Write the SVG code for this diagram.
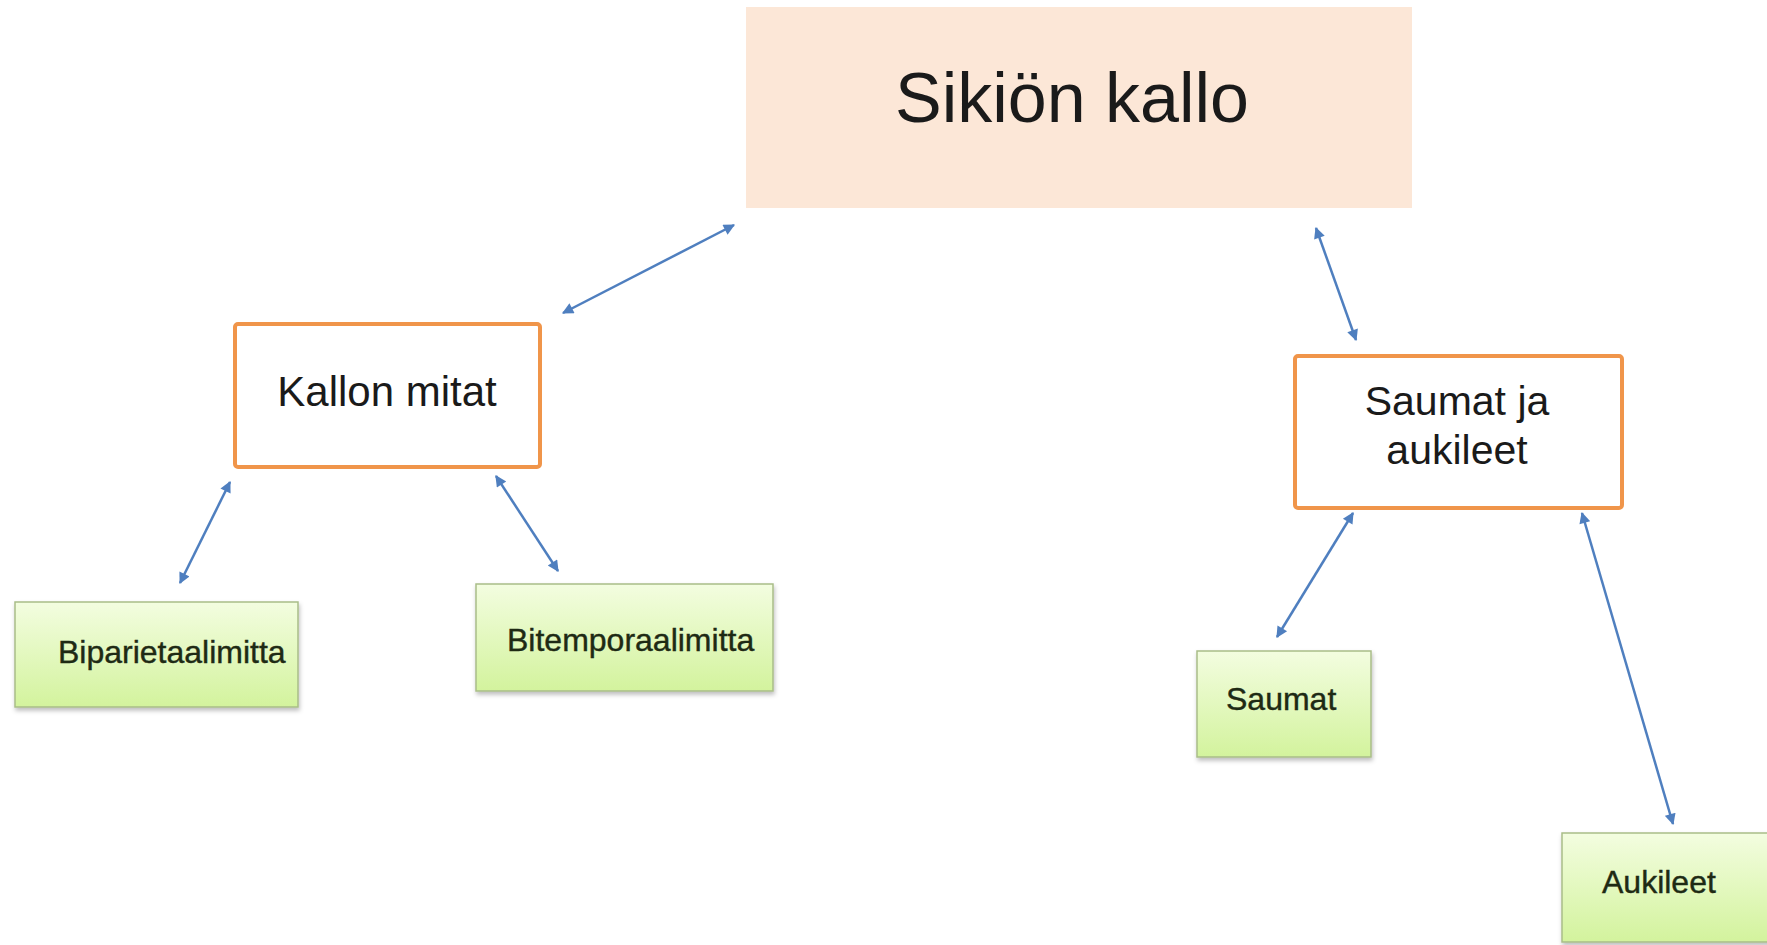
<svg xmlns="http://www.w3.org/2000/svg" width="1767" height="945" viewBox="0 0 1767 945">
  <style>
    .root { fill: #fce7d7; }
    .mid { fill: #ffffff; stroke: #f0954a; stroke-width: 4; }
    .leaf { fill: url(#leafFill); stroke: #a9bd88; stroke-width: 1.5; filter: url(#leafShadow); }
    .t { font-family: "Liberation Sans", Arial, Helvetica, sans-serif; fill: #1a1a1a; }
    .tl { font-family: "Liberation Sans", Arial, Helvetica, sans-serif; fill: #1e2a14; font-size: 32px; stroke: #1e2a14; stroke-width: 0.4; }
    .link { stroke: #4f7fbf; stroke-width: 2.5; fill: none; marker-start: url(#tip); marker-end: url(#tip); }
  </style>
  <defs>
    <linearGradient id="leafFill" x1="0" y1="0" x2="0" y2="1">
      <stop offset="0" stop-color="#f3fde0"/>
      <stop offset="1" stop-color="#d3f39d"/>
    </linearGradient>
    <filter id="leafShadow" x="-5%" y="-5%" width="115%" height="120%">
      <feDropShadow dx="1" dy="3" stdDeviation="2" flood-color="#000" flood-opacity="0.25"/>
    </filter>
    <marker id="tip" viewBox="0 0 10 10" refX="9" refY="5" markerWidth="5.5" markerHeight="4.5" orient="auto-start-reverse" markerUnits="strokeWidth">
      <path d="M0,0 L10,5 L0,10 Z" fill="#4f7fbf"/>
    </marker>
  </defs>

  <rect width="1767" height="945" fill="#ffffff"/>

  <!-- connectors -->
  <g id="connectors">
    <line class="link" x1="563" y1="313" x2="734" y2="225"/>
    <line class="link" x1="1316" y1="228" x2="1356" y2="340"/>
    <line class="link" x1="230" y1="482" x2="180" y2="583"/>
    <line class="link" x1="496" y1="476" x2="558" y2="571"/>
    <line class="link" x1="1353" y1="513" x2="1277" y2="637"/>
    <line class="link" x1="1582" y1="513" x2="1673" y2="824"/>
  </g>

  <!-- top node -->
  <g id="node-sikion-kallo">
    <rect class="root" x="746" y="7" width="666" height="201"/>
    <text class="t" x="1072" y="122" font-size="70" text-anchor="middle">Sikiön kallo</text>
  </g>

  <!-- second level -->
  <g id="node-kallon-mitat">
    <rect class="mid" x="235" y="324" width="305" height="143" rx="3"/>
    <text class="t" x="387" y="406" font-size="42" text-anchor="middle">Kallon mitat</text>
  </g>
  <g id="node-saumat-ja-aukileet">
    <rect class="mid" x="1295" y="356" width="327" height="152" rx="3"/>
    <text class="t" x="1457" y="415" font-size="41" text-anchor="middle">Saumat ja</text>
    <text class="t" x="1457" y="464" font-size="41" text-anchor="middle">aukileet</text>
  </g>

  <!-- leaves -->
  <g id="node-biparietaalimitta">
    <rect class="leaf" x="15" y="602" width="283" height="105"/>
    <text class="tl" x="58" y="663">Biparietaalimitta</text>
  </g>
  <g id="node-bitemporaalimitta">
    <rect class="leaf" x="476" y="584" width="297" height="107"/>
    <text class="tl" x="507" y="651">Bitemporaalimitta</text>
  </g>
  <g id="node-saumat">
    <rect class="leaf" x="1197" y="651" width="174" height="106"/>
    <text class="tl" x="1226" y="710">Saumat</text>
  </g>
  <g id="node-aukileet">
    <rect class="leaf" x="1562" y="833" width="210" height="109"/>
    <text class="tl" x="1602" y="893">Aukileet</text>
  </g>
</svg>
